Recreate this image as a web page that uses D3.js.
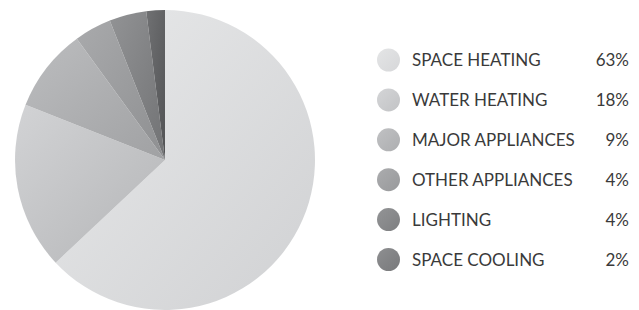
<!DOCTYPE html>
<html>
<head>
<meta charset="utf-8">
<script src="https://cdn.jsdelivr.net/npm/d3@7"></script>
<style>
  html, body { margin: 0; padding: 0; background: #fff; }
  svg { display: block; }
  text { font-family: Lato, "Open Sans", sans-serif; font-weight: 400; fill: #3a3a3a; }
</style>
</head>
<body>
<svg id="chart" width="639" height="310"></svg>
<script>
const categories = ['SPACE HEATING', 'WATER HEATING', 'MAJOR APPLIANCES', 'OTHER APPLIANCES', 'LIGHTING', 'SPACE COOLING']
const shares = [63, 18, 9, 4, 4, 2]

// slice shading: light end / dark end of each gradient
const lightTones = ['#e8e9ea', '#d2d3d5', '#bcbdbf', '#a9aaac', '#929395', '#707173']
const darkTones = ['#d0d1d3', '#b4b5b7', '#a0a1a3', '#8e8f91', '#717274', '#525355']
const legendTones = [['#e4e5e6', '#d6d7d9'], ['#d4d5d7', '#c2c3c5'], ['#c0c1c3', '#adaeb0'], ['#abacae', '#98999b'], ['#939496', '#7e7f81'], ['#8e8f91', '#78797b']]

const data = categories.map((name, i) => ({ name, value: shares[i], i }))

const svg = d3.select('#chart')
const defs = svg.append('defs')

const addGrad = (id, a, b) => {
  const g = defs.append('linearGradient').attr('id', id)
    .attr('x1', 0).attr('y1', 0).attr('x2', 1).attr('y2', 1)
  g.append('stop').attr('offset', '0%').attr('stop-color', a)
  g.append('stop').attr('offset', '100%').attr('stop-color', b)
}
data.forEach((d, i) => {
  addGrad('slice' + i, lightTones[i], darkTones[i])
  addGrad('dot' + i, legendTones[i][0], legendTones[i][1])
})

const radius = 150
const pie = d3.pie().sort(null).value(d => d.value)
const arc = d3.arc().innerRadius(0).outerRadius(radius)

const gPie = svg.append('g').attr('transform', 'translate(165, 160)')
gPie.selectAll('path')
  .data(pie(data))
  .enter()
  .append('path')
  .attr('d', arc)
  .attr('fill', d => `url(#slice${d.index})`)

const y = d3.scalePoint().domain(categories).range([60, 259.5])

const gLegend = svg.append('g')
const rows = gLegend.selectAll('g')
  .data(data)
  .enter()
  .append('g')
  .attr('transform', d => `translate(0, ${y(d.name)})`)

rows.append('circle')
  .attr('cx', 388.5).attr('r', 11.5)
  .attr('fill', d => `url(#dot${d.i})`)

rows.append('text')
  .attr('x', 412)
  .attr('y', 6)
  .style('font-size', '17px')
  .text(d => d.name)

rows.append('text')
  .attr('x', 629)
  .attr('y', 6)
  .attr('text-anchor', 'end')
  .style('font-size', '17px')
  .text(d => d.value + '%')
</script>
</body>
</html>
